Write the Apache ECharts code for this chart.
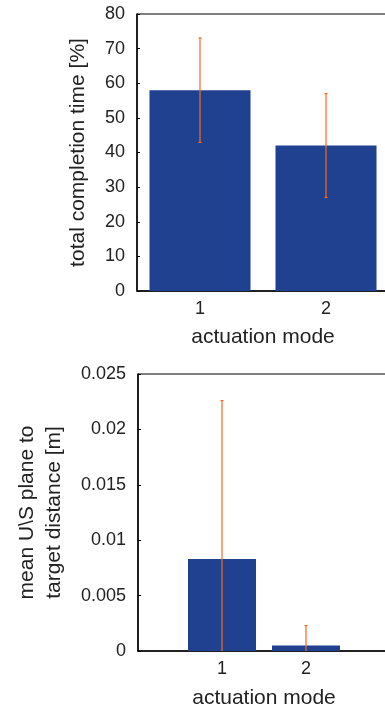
<!DOCTYPE html>
<html>
<head>
<meta charset="utf-8">
<script src="https://cdn.jsdelivr.net/npm/echarts@6/dist/echarts.min.js"></script>
<style>
  html, body { margin: 0; padding: 0; background: #fff; }
  #chart { width: 385px; height: 705px; }
</style>
</head>
<body>
<div id="chart"></div>
<script>
// data
const modes = [1, 2]
const completionMean = [58, 42]
const completionErr = [15.1, 15]
const distanceMean = [0.0083, 0.0005]
const distanceErr = [0.0143, 0.0018]

const barColor = '#1f418f'
const errColor = '#f96a1b'
const font = '"Liberation Sans", Arial, sans-serif'

const chart = echarts.init(document.getElementById('chart'))

// error bar drawn as vertical line with small caps
function errorBar(params, api) {
  const x = api.value(0)
  const lo = api.coord([x, api.value(1)])
  const hi = api.coord([x, api.value(2)])
  const cap = 1.5
  const style = { stroke: errColor, lineWidth: 1.2 }
  return {
    type: 'group',
    children: [
      { type: 'line', shape: { x1: lo[0], y1: lo[1], x2: hi[0], y2: hi[1] }, style },
      { type: 'line', shape: { x1: hi[0] - cap, y1: hi[1], x2: hi[0] + cap, y2: hi[1] }, style },
      { type: 'line', shape: { x1: lo[0] - cap, y1: lo[1], x2: lo[0] + cap, y2: lo[1] }, style }
    ]
  }
}

const axisLine = { lineStyle: { color: '#000', width: 1.5 } }
const tick = { inside: true, length: 3, lineStyle: { color: '#000' } }
const label = { color: '#222', fontSize: 18, fontFamily: font }
const nameStyle = { color: '#222', fontSize: 21, fontFamily: font, lineHeight: 27 }

const option = {
  animation: false,
  grid: [
    { left: 137, top: 14, width: 252, height: 277, outerBoundsMode: 'none', show: true, borderColor: '#000', borderWidth: 1 },
    { left: 138, top: 374, width: 252, height: 277, outerBoundsMode: 'none', show: true, borderColor: '#000', borderWidth: 1 }
  ],
  xAxis: [
    {
      gridIndex: 0, type: 'value', min: 0.5, max: 2.5,
      name: 'actuation mode', nameLocation: 'middle', nameGap: 33, nameTextStyle: nameStyle,
      axisLine, axisTick: { ...tick, customValues: modes },
      axisLabel: { ...label, margin: 9, customValues: modes },
      splitLine: { show: false }
    },
    {
      gridIndex: 1, type: 'value', min: 0, max: 3,
      name: 'actuation mode', nameLocation: 'middle', nameGap: 34, nameTextStyle: nameStyle,
      axisLine, axisTick: { ...tick, customValues: modes },
      axisLabel: { ...label, margin: 9, customValues: modes },
      splitLine: { show: false }
    }
  ],
  yAxis: [
    {
      gridIndex: 0, type: 'value', min: 0, max: 80, interval: 10,
      name: 'total completion time [%]', nameLocation: 'middle', nameGap: 45, nameTextStyle: nameStyle,
      axisLine: { show: true, ...axisLine }, axisTick: { show: true, ...tick },
      axisLabel: { ...label, margin: 12 },
      splitLine: { show: false }
    },
    {
      gridIndex: 1, type: 'value', min: 0, max: 0.025, interval: 0.005,
      name: 'mean U\\S plane to\ntarget distance [m]', nameLocation: 'middle', nameGap: 70, nameTextStyle: nameStyle,
      axisLine: { show: true, ...axisLine }, axisTick: { show: true, ...tick },
      axisLabel: { ...label, margin: 12 },
      splitLine: { show: false }
    }
  ],
  series: [
    {
      type: 'bar', xAxisIndex: 0, yAxisIndex: 0, barWidth: 101,
      itemStyle: { color: barColor },
      data: modes.map((m, i) => [m, completionMean[i]])
    },
    {
      type: 'custom', xAxisIndex: 0, yAxisIndex: 0, renderItem: errorBar, clip: true, z: 5,
      data: modes.map((m, i) => [m, completionMean[i] - completionErr[i], completionMean[i] + completionErr[i]])
    },
    {
      type: 'bar', xAxisIndex: 1, yAxisIndex: 1, barWidth: 68,
      itemStyle: { color: barColor },
      data: modes.map((m, i) => [m, distanceMean[i]])
    },
    {
      type: 'custom', xAxisIndex: 1, yAxisIndex: 1, renderItem: errorBar, clip: true, z: 5,
      data: modes.map((m, i) => [m, distanceMean[i] - distanceErr[i], distanceMean[i] + distanceErr[i]])
    }
  ]
}

chart.setOption(option)
</script>
</body>
</html>
